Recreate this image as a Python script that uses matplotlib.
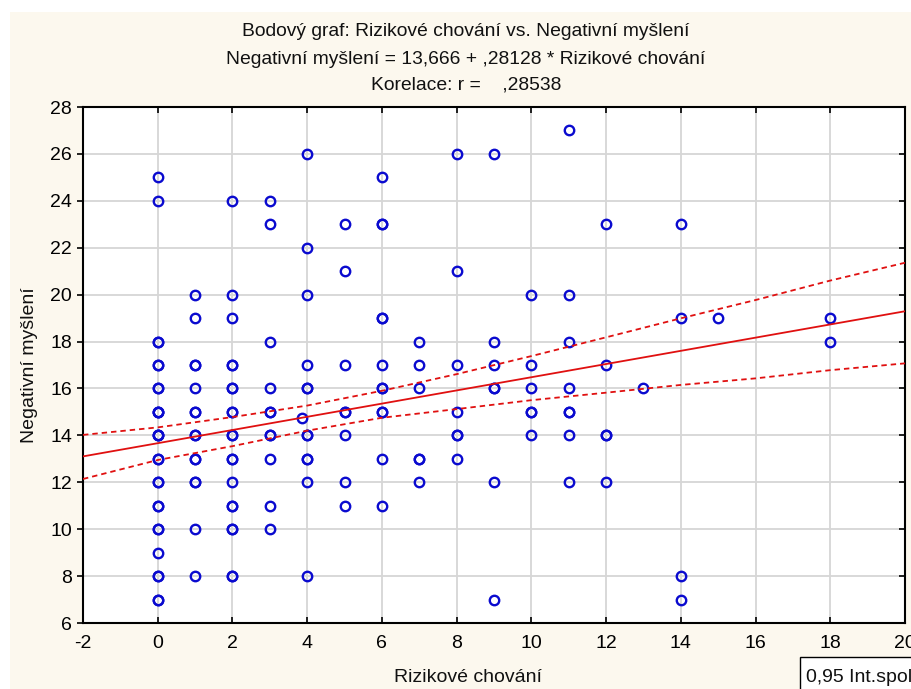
import numpy as np
import matplotlib
matplotlib.use("Agg")
import matplotlib.pyplot as plt
from matplotlib.patches import Rectangle

plt.rcParams['font.family'] = ['Liberation Sans', 'DejaVu Sans']
plt.rcParams['axes.unicode_minus'] = False

# ---- data (Rizikové chování -> list of Negativní myšlení values; repeats = overlapping points)
y_at_0 = [25, 24, 18, 18, 17, 17, 16, 16, 15, 15, 15, 14, 14, 14, 13, 13, 12, 12, 11, 11, 10, 10, 9, 8, 8, 7, 7]
y_at_1 = [20, 19, 17, 17, 16, 15, 15, 14, 14, 13, 13, 12, 12, 10, 8]
y_at_2 = [24, 20, 19, 17, 17, 16, 16, 15, 15, 14, 14, 13, 13, 12, 11, 11, 10, 10, 8, 8]
y_at_3 = [24, 23, 18, 16, 15, 15, 14, 14, 13, 11, 10]
y_at_4 = [26, 22, 20, 17, 16, 16, 14, 14, 13, 13, 12, 8]
y_at_5 = [23, 21, 17, 15, 15, 14, 12, 11]
y_at_6 = [25, 23, 23, 19, 19, 17, 16, 16, 15, 15, 13, 11]
y_at_7 = [18, 17, 16, 13, 13, 12]
y_at_8 = [26, 21, 17, 15, 14, 14, 13]
y_at_9 = [26, 18, 17, 16, 16, 12, 7]
y_at_10 = [20, 17, 16, 15, 15, 14]
y_at_11 = [27, 20, 18, 16, 15, 15, 14, 12]
y_at_12 = [23, 17, 14, 14, 12]
y_at_13 = [16]
y_at_14 = [23, 19, 8, 7]
y_at_15 = [19]
y_at_18 = [19, 18]
extra_x = [3.85]
extra_y = [14.75]

columns = {0: y_at_0, 1: y_at_1, 2: y_at_2, 3: y_at_3, 4: y_at_4, 5: y_at_5,
           6: y_at_6, 7: y_at_7, 8: y_at_8, 9: y_at_9, 10: y_at_10, 11: y_at_11,
           12: y_at_12, 13: y_at_13, 14: y_at_14, 15: y_at_15, 18: y_at_18}

# regression (from title) and 0.95 confidence band
intercept = 13.666
slope = 0.28128
ci_x = [-2, 0, 2, 4, 6, 8, 10, 12, 14, 16, 18, 20]
ci_upper = [14.02, 14.34, 14.78, 15.27, 15.90, 16.61, 17.38, 18.18, 18.99, 19.77, 20.60, 21.36]
ci_lower = [12.14, 12.95, 13.54, 14.20, 14.75, 15.12, 15.50, 15.82, 16.15, 16.43, 16.78, 17.07]

x_ticks = [-2, 0, 2, 4, 6, 8, 10, 12, 14, 16, 18, 20]
y_ticks = [6, 8, 10, 12, 14, 16, 18, 20, 22, 24, 26, 28]

title_lines = ["Bodový graf: Rizikové chování vs. Negativní myšlení",
               "Negativní myšlení = 13,666 + ,28128 * Rizikové chování",
               "Korelace: r =    ,28538"]

W, H = 912, 689
fig = plt.figure(figsize=(W / 100, H / 100), dpi=100, facecolor='white')

cream = '#FCF8EE'
fig.patches.append(Rectangle((10 / W, 0), 1, 1 - 12 / H, transform=fig.transFigure,
                             facecolor=cream, edgecolor='none', zorder=-10))

ax = fig.add_axes([83 / W, 1 - 623 / H, (905 - 83) / W, (623 - 107) / H])
ax.set_facecolor('white')

xs, ys = [], []
for xv, yl in columns.items():
    xs.extend([xv] * len(yl))
    ys.extend(yl)
xs.extend(extra_x)
ys.extend(extra_y)

ax.plot(xs, ys, linestyle='none', marker='o', markersize=6.8, markerfacecolor='none',
        markeredgecolor='#0A0ACF', markeredgewidth=1.7, zorder=3)

lx = np.array([-2, 20])
ax.plot(lx, intercept + slope * lx, color='#E01010', lw=1.3, zorder=4)
ax.plot(ci_x, ci_upper, color='#E01010', lw=1.3, ls=(0, (3, 2.2)), zorder=4)
ax.plot(ci_x, ci_lower, color='#E01010', lw=1.3, ls=(0, (3, 2.2)), zorder=4)

ax.set_xlim(-2, 20)
ax.set_ylim(6, 28)
ax.set_xticks(x_ticks)
ax.set_yticks(y_ticks)
ax.grid(True, color='#D6D6D6', lw=1.3, zorder=0)
ax.set_axisbelow(True)
for s in ax.spines.values():
    s.set_linewidth(1.5)
    s.set_color('black')
ax.tick_params(axis='both', labelsize=14, colors='black', width=1.2)
ax.tick_params(axis='x', direction='in', length=4, top=True, pad=9)
ax.tick_params(axis='y', direction='out', length=4, right=True, pad=4)
for t in ax.yaxis.get_ticklines()[1::2]:
    t.set_marker(matplotlib.lines.TICKLEFT)

for line, yp in zip(title_lines, [32, 59, 85]):
    fig.text(466 / W, 1 - yp / H, line, ha='center', va='center', fontsize=13.9, color='#111111')

fig.text(468 / W, 1 - 678 / H, "Rizikové chování", ha='center', va='center', fontsize=14, color='#111111')
fig.text(30 / W, 1 - 365 / H, "Negativní myšlení", ha='center', va='center', rotation=90,
         fontsize=14, color='#111111')

fig.patches.append(Rectangle((800 / W, -0.05), 0.2, 0.05 + (689 - 657) / H, transform=fig.transFigure,
                             facecolor='white', edgecolor='black', lw=1.0, zorder=5))
fig.text(806 / W, 1 - 677 / H, "0,95 Int.spol.", ha='left', va='center', fontsize=14, color='#111111',
         zorder=6)

fig.savefig('out.png', dpi=100, facecolor=fig.get_facecolor())
